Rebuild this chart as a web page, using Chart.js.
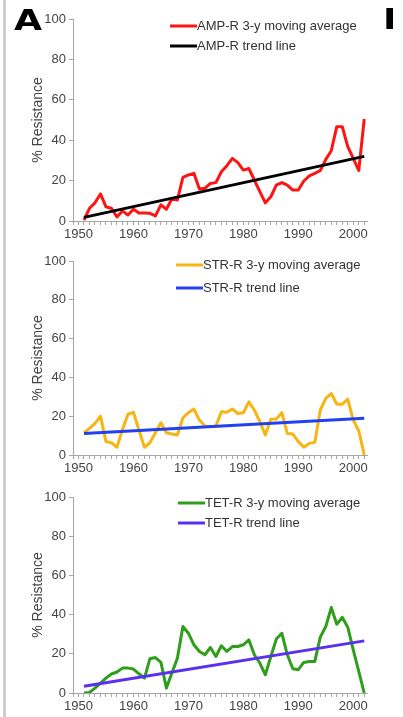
<!DOCTYPE html>
<html>
<head>
<title>Resistance trends</title>
<script src="https://cdn.jsdelivr.net/npm/chart.js"></script>
<style>
  body { margin: 0; width: 403px; height: 717px; background: #fff; position: relative; overflow: hidden; font-family: "Liberation Sans", Arial, sans-serif; }
  .bar { position: absolute; left: 3px; top: 0; width: 3px; height: 717px; background: #cdcdcd; }
  .panel-letter { position: absolute; z-index: 2; font-family: "DejaVu Sans", sans-serif; font-weight: bold; font-size: 29px; line-height: 36px; color: #000; transform-origin: left top; transform: scaleX(1.25); }
  .clip { position: absolute; z-index: 2; left: 383px; top: 1px; width: 10px; height: 36px; overflow: hidden; }
  canvas { position: absolute; left: 0; z-index: 1; }
</style>
</head>
<body>
<div class="bar"></div>
<canvas id="amp" width="403" height="245" style="top:0"></canvas>
<canvas id="str" width="403" height="240" style="top:240px"></canvas>
<canvas id="tet" width="403" height="237" style="top:480px"></canvas>
<div class="panel-letter" style="left:14px; top:2px;">A</div>
<div class="clip"><div class="panel-letter" style="left:0; top:0;">B</div></div>

<script>
const years = Array.from({ length: 52 }, (_, i) => 1951 + i);
const xTickLabels = [1950, 1960, 1970, 1980, 1990, 2000];
const yTickLabels = [0, 20, 40, 60, 80, 100];

const ampAvg = [0.5, 6.3, 9, 13.4, 7, 6.3, 2, 5, 3, 5.8,
                4, 4, 3.8, 2.5, 8, 5.8, 11, 10.4, 21.6, 22.8,
                23.6, 15.8, 16.2, 18.6, 19, 24.4, 27.4, 31, 28.9, 25.2,
                26, 20.3, 14.5, 9, 12, 17.8, 19, 17.8, 15.3, 15.3,
                19.8, 22.3, 23.6, 25, 30.5, 34.8, 46.7, 46.7, 36.8, 31,
                25, 50.5];
const strAvg = [11.5, 13.7, 16.3, 20, 6.9, 6.3, 4, 13.2, 21, 22,
                12.9, 4, 6.3, 11.5, 16.6, 11.5, 10.8, 10.3, 19.2, 21.8,
                23.7, 18, 14.9, 14.6, 14.9, 22.3, 22, 23.7, 21.4, 21.8,
                27.4, 23.2, 17.2, 10.3, 18.4, 18.5, 21.8, 11.1, 10.8, 6.9,
                4, 6, 6.5, 23.2, 29.2, 31.7, 26.2, 26.2, 28.8, 18,
                12.5, 0];
const tetAvg = [0, 0.3, 2.5, 5, 7.6, 9.7, 10.7, 12.7, 12.7, 12.2,
                9.8, 7.6, 17.5, 18.1, 15.6, 2.5, 10.2, 17.8, 33.9, 30.5,
                24.6, 21.2, 19.5, 23.2, 18.6, 24.1, 21.2, 23.7, 23.7, 24.6,
                27.1, 19.5, 15.3, 9.3, 18.6, 27.5, 30.5, 19.5, 12.4, 11.9,
                15.6, 16.1, 16.1, 28.5, 33.9, 43.6, 35.1, 38.6, 33.6, 22,
                11, 0];

// trend lines: value at first and last year
const trendYears = [1951, 2002];
const ampTrend = [1.8, 32];
const strTrend = [11.1, 18.9];
const tetTrend = [3.4, 26.6];

const axisColor = '#a6a6a6';
const tickColor = '#444';

// legend drawn inside the plot, line sample followed by the text
const lineLegend = {
  id: 'lineLegend',
  afterDraw(chart, args, opts) {
    const ctx = chart.ctx;
    const top = chart.chartArea.top;
    ctx.save();
    ctx.font = '13px "Liberation Sans", Arial, sans-serif';
    ctx.textBaseline = 'middle';
    ctx.fillStyle = '#333';
    chart.data.datasets.forEach((ds, i) => {
      const y = top + opts.y0 + i * opts.gap;
      ctx.strokeStyle = ds.borderColor;
      ctx.lineWidth = 3;
      ctx.beginPath();
      ctx.moveTo(opts.x, y);
      ctx.lineTo(opts.x + 27, y);
      ctx.stroke();
      ctx.fillText(ds.label, opts.x + 27, y);
    });
    ctx.restore();
  }
};

function makePanel(id, name, avg, trend, avgColor, trendColor, pad, legend) {
  new Chart(document.getElementById(id), {
    type: 'line',
    data: {
      datasets: [{
        label: name + ' 3-y moving average',
        data: years.map((yr, i) => ({ x: yr, y: avg[i] })),
        borderColor: avgColor,
        borderWidth: 3,
        pointRadius: 0,
        tension: 0,
        borderJoinStyle: 'round',
        order: 1
      }, {
        label: name + ' trend line',
        data: trendYears.map((yr, i) => ({ x: yr, y: trend[i] })),
        borderColor: trendColor,
        borderWidth: 3,
        pointRadius: 0,
        order: 0
      }]
    },
    options: {
      responsive: false,
      animation: false,
      layout: { padding: { left: 30, right: 36, top: pad.top, bottom: pad.bottom } },
      scales: {
        x: {
          type: 'linear',
          min: 1949,
          max: 2002.5,
          afterBuildTicks: scale => {
            const t = [];
            for (let v = 1949; v <= 2002; v++) t.push({ value: v });
            scale.ticks = t;
          },
          afterFit: scale => { scale.height = 22; },
          ticks: {
            autoSkip: false,
            maxRotation: 0,
            padding: 2,
            color: tickColor,
            font: { family: '"Liberation Sans", Arial, sans-serif', size: 13 },
            callback: v => xTickLabels.includes(v) ? String(v) : ''
          },
          grid: { drawOnChartArea: false, drawTicks: true, tickLength: 4, color: axisColor },
          border: { color: axisColor, width: 1 }
        },
        y: {
          min: 0,
          max: 100,
          afterBuildTicks: scale => { scale.ticks = yTickLabels.map(v => ({ value: v })); },
          afterFit: scale => { scale.width = 43; },
          ticks: {
            padding: 3,
            color: tickColor,
            font: { family: '"Liberation Sans", Arial, sans-serif', size: 13 }
          },
          grid: { drawOnChartArea: false, drawTicks: true, tickLength: 4, color: axisColor },
          border: { color: axisColor, width: 1 },
          title: {
            display: true,
            text: '% Resistance',
            color: tickColor,
            padding: 0,
            font: { family: '"Liberation Sans", Arial, sans-serif', size: 14 }
          }
        }
      },
      plugins: {
        legend: { display: false },
        tooltip: { enabled: false },
        lineLegend: legend
      }
    },
    plugins: [lineLegend]
  });
}

makePanel('amp', 'AMP-R', ampAvg, ampTrend, '#ff1414', '#000000',
  { top: 19, bottom: 2 }, { x: 170, y0: 7, gap: 20 });
makePanel('str', 'STR-R', strAvg, strTrend, '#f7b514', '#2040f2',
  { top: 21, bottom: 3 }, { x: 176, y0: 4, gap: 23 });
makePanel('tet', 'TET-R', tetAvg, tetTrend, '#2f9e1c', '#5a2ff0',
  { top: 17, bottom: 2 }, { x: 178, y0: 6, gap: 20 });
</script>
</body>
</html>
